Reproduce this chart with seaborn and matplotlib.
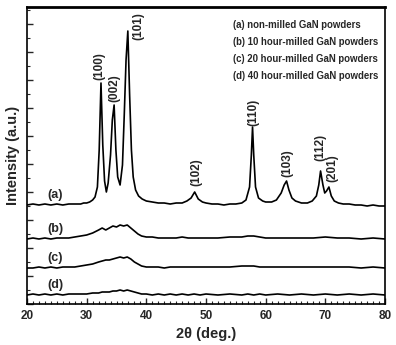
import numpy as np
import pandas as pd
import matplotlib
matplotlib.use("Agg")
import matplotlib.pyplot as plt
import seaborn as sns
from matplotlib.ticker import MultipleLocator, NullFormatter

# ---- data (intensities in arbitrary units above each baseline) ----
x_a = [20, 21, 22, 23, 24, 25, 26, 27, 28, 29,
       29.5, 30, 30.5, 31, 31.4, 31.8, 32.1, 32.4, 32.7, 33.0,
       33.3, 33.6, 34.0, 34.3, 34.6, 34.9, 35.2, 35.6, 36.0, 36.3,
       36.6, 36.9, 37.2, 37.5, 37.8, 38.2, 38.7, 39.3, 40, 41,
       42, 43, 44, 45, 46, 46.8, 47.5, 48.1, 48.7, 49.4,
       50, 51, 52, 53, 54, 55, 56, 56.7, 57.3, 57.6,
       57.8, 58.0, 58.3, 58.8, 59.5, 60, 61, 61.8, 62.6, 63.1,
       63.5, 63.9, 64.4, 65, 66, 67, 67.8, 68.5, 68.9, 69.2,
       69.6, 69.9, 70.2, 70.6, 71.0, 71.5, 72.2, 73, 74, 75,
       76, 77, 78, 79, 80]
y_a = [0, 1, 0, 1, 0, 1, 0, 1, 1, 1,
       2, 2, 3, 5, 8, 18, 55, 122, 60, 24,
       13, 22, 50, 85, 100, 55, 28, 20, 40, 90,
       145, 174, 110, 55, 28, 15, 9, 6, 4, 3,
       2, 2, 1, 2, 2, 4, 7, 13, 6, 3,
       2, 1, 1, 0, 1, 1, 2, 5, 18, 50,
       78, 50, 18, 7, 4, 3, 3, 5, 12, 20,
       24, 15, 7, 4, 2, 2, 4, 9, 20, 34,
       20, 12, 14, 18, 9, 4, 2, 1, 1, 0,
       0, -1, 0, -1, -1]

x_bcd = [20, 21, 22, 23, 24, 25, 26, 27, 28, 29, 30, 31, 32,
         32.6, 33.2, 33.8, 34.4, 35, 35.6, 36.2, 36.8, 37.4, 38, 38.6, 39.2,
         40, 41, 42, 43, 44, 45, 46, 47, 48, 49, 50,
         52, 54, 56, 57, 58, 59, 60,
         62, 64, 66, 68, 70, 72, 74, 76, 78, 80]
y_b = [0, 1, 0, 1, 0, 1, 1, 1, 2, 3, 4, 6, 9,
       11, 9, 11, 13, 12, 14, 13, 14, 11, 8, 5, 3,
       2, 2, 1, 1, 1, 1, 2, 1, 1, 1, 1,
       1, 2, 2, 3, 3, 2, 1,
       1, 1, 1, 1, 2, 1, 1, 0, 1, 0]
y_c = [0, 0, 1, 0, 1, 0, 1, 1, 1, 2, 3, 4, 6,
       7, 8, 8, 9, 10, 11, 10, 11, 9, 6, 4, 2,
       1, 1, 1, 0, 1, 1, 1, 1, 1, 1, 1,
       1, 1, 2, 2, 2, 1, 1,
       1, 1, 1, 1, 1, 1, 1, 0, 1, 0]
y_d = [0, 1, 0, 1, 0, 1, 0, 1, 1, 1, 1, 2, 2,
       3, 3, 3, 4, 4, 5, 4, 5, 4, 3, 2, 1,
       1, 0, 1, 0, 1, 0, 1, 0, 1, 0, 1,
       0, 1, 0, 1, 0, 1, 0,
       1, 0, 1, 0, 1, 0, 1, 0, 1, 0]

curve_names = ["(a)", "(b)", "(c)", "(d)"]
curve_offsets = [99, 65, 36, 9]

peak_labels = ["(100)", "(002)", "(101)", "(102)", "(110)", "(103)", "(112)", "(201)"]
peak_pos = [32.4, 34.6, 36.9, 48.1, 57.8, 63.5, 69.2, 70.6]
peak_height = [122, 100, 174, 13, 78, 24, 34, 18]

legend_lines = ["(a) non-milled GaN powders",
                "(b) 10 hour-milled GaN powders",
                "(c) 20 hour-milled GaN powders",
                "(d) 40 hour-milled GaN powders"]

x_ticks = [20, 30, 40, 50, 60, 70, 80]

# ---- build table ----
frames = []
for name, xs, ys, off in zip(curve_names, [x_a, x_bcd, x_bcd, x_bcd], [y_a, y_b, y_c, y_d], curve_offsets):
    frames.append(pd.DataFrame({"two_theta": xs, "intensity": np.array(ys, float) + off, "sample": name}))
df = pd.concat(frames, ignore_index=True)

# ---- plot ----
sns.set_style("ticks")
plt.rcParams['font.family'] = ['Liberation Sans', 'DejaVu Sans']

fig = plt.figure(figsize=(3.96, 3.45), dpi=100)
ax = fig.add_axes([27/396, 1-304/345, (385-27)/396, (304-7)/345])

sns.lineplot(data=df, x="two_theta", y="intensity", units="sample", estimator=None,
             color="black", linewidth=1.2, ax=ax, legend=False, sort=False)

ax.set_xlim(20, 80)
ax.set_ylim(0, 297)
ax.xaxis.set_major_locator(MultipleLocator(10))
ax.xaxis.set_minor_locator(MultipleLocator(1))
ax.set_xticks(x_ticks)
ax.set_xticklabels([str(t) for t in x_ticks], fontsize=8.5, fontweight="bold")
ax.yaxis.set_major_locator(MultipleLocator(28))
ax.yaxis.set_minor_locator(MultipleLocator(14))
ax.yaxis.set_major_formatter(NullFormatter())
ax.tick_params(axis="both", which="major", direction="in", length=4, width=1.0, pad=4)
ax.tick_params(axis="both", which="minor", direction="in", length=2.5, width=0.8)
ax.tick_params(top=False, right=False, which="both")
for side, sp in ax.spines.items():
    sp.set_visible(True)
    sp.set_color("black")
    sp.set_linewidth(1.2)
ax.spines["top"].set_linewidth(2.0)

ax.set_xlabel("2θ (deg.)", fontsize=10.5, fontweight="bold", labelpad=4)
ax.set_ylabel("Intensity (a.u.)", fontsize=10.5, fontweight="bold", labelpad=1)

# curve labels
for name, off in zip(curve_names, curve_offsets):
    ax.text(24.7, off + 10, name, fontsize=9, fontweight="bold", ha="center", va="center")

# peak labels (offset from peak top, label centre)
label_dx = [-0.2, 0.1, 1.7, 0.3, 0.2, 0.2, 0.0, 0.6]
label_dy = [17, 17, 5, 20, 15, 18, 24, 19]
for lab, p, h, dx, dy in zip(peak_labels, peak_pos, peak_height, label_dx, label_dy):
    ax.text(p + dx, 99 + h + dy, lab, rotation=90, fontsize=8.5, fontweight="bold",
            ha="center", va="center")

# legend-like text block
for i, line in enumerate(legend_lines):
    ax.text(0.575, 0.94 - i * 0.058, line, transform=ax.transAxes, fontsize=6.9,
            fontweight="bold", ha="left", va="center")

fig.savefig("out.png", dpi=100)
